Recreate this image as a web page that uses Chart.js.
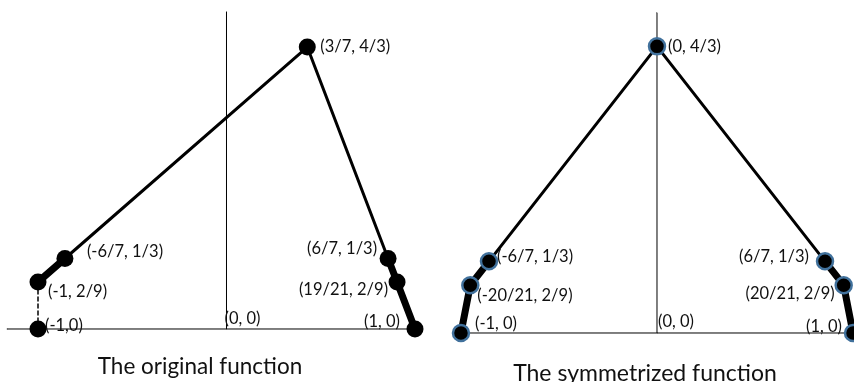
<!DOCTYPE html>
<html>
<head>
<meta charset="utf-8">
<script src="https://cdn.jsdelivr.net/npm/chart.js@4.4.1/dist/chart.umd.min.js"></script>
<style>
  html, body { margin: 0; padding: 0; background: #fff; }
  body { width: 854px; height: 382px; position: relative; overflow: hidden; font-family: Lato, "Open Sans", sans-serif; }
  .panel { position: absolute; top: 0; height: 382px; }
  .panel canvas { display: block; }
  .title { position: absolute; line-height: 1; color: #111; white-space: nowrap; transform: translateX(-50%); }
</style>
</head>
<body>
<div class="panel" style="left:0;width:430px"><canvas id="origChart" width="430" height="382"></canvas></div>
<div class="panel" style="left:430px;width:424px"><canvas id="symChart" width="424" height="382"></canvas></div>
<div class="title" id="origTitle" style="left:200px;top:355px;font-size:22.5px"></div>
<div class="title" id="symTitle" style="left:645px;top:361px;font-size:23px"></div>
<script>
// original function: break points
const origX = [-1, -1, -6/7, 3/7, 6/7, 19/21, 1];
const origY = [0, 2/9, 1/3, 4/3, 1/3, 2/9, 0];
const origLabels = ['(-1,0)', '(-1, 2/9)', '(-6/7, 1/3)', '(3/7, 4/3)', '(6/7, 1/3)', '(19/21, 2/9)', '(1, 0)'];
const origAxisX = [-1.165, 0.975];   // extent of the horizontal axis
const origAxisY = [0, 1.5];          // extent of the vertical axis

// symmetrized function: break points
const symX = [-1, -20/21, -6/7, 0, 6/7, 20/21, 1];
const symY = [0, 2/9, 1/3, 4/3, 1/3, 2/9, 0];
const symLabels = ['(-1, 0)', '(-20/21, 2/9)', '(-6/7, 1/3)', '(0, 4/3)', '(6/7, 1/3)', '(20/21, 2/9)', '(1, 0)'];
const symAxisX = [-0.98, 1.01];
const symAxisY = [0, 1.49];

const originLabel = '(0, 0)';
const titles = ['The original function', 'The symmetrized function'];

document.getElementById('origTitle').textContent = titles[0];
document.getElementById('symTitle').textContent = titles[1];

// label placement relative to the point: [dx, dy, align]
const origLabelPos = [[7, -3, 'left'], [10, 10, 'left'], [22, -7, 'left'], [13, 0, 'left'],
                      [-11, -10, 'right'], [-9, 8, 'right'], [-15, -7, 'right']];
const symLabelPos = [[14, -9, 'left'], [7, 10, 'left'], [8, -5, 'left'], [11, 0, 'left'],
                     [-16, -5, 'right'], [-9, 8, 'right'], [-11, -6, 'right']];

function pts(xs, ys, idx) {
  return idx.map(i => ({ x: xs[i], y: ys[i] }));
}

function segment(data, width, dash) {
  return {
    type: 'scatter', data: data, showLine: true, borderColor: '#000', borderWidth: width,
    borderDash: dash || [], pointRadius: 0, borderCapStyle: 'round', borderJoinStyle: 'round'
  };
}

// draws coordinate labels next to the points
const labelPlugin = {
  id: 'pointLabels',
  afterDatasetsDraw(chart, args, opts) {
    const ctx = chart.ctx;
    const xs = chart.scales.x, ys = chart.scales.y;
    ctx.save();
    ctx.font = '16.5px Lato, "Open Sans", sans-serif';
    ctx.fillStyle = '#111';
    ctx.textBaseline = 'middle';
    opts.xs.forEach((x, i) => {
      const p = opts.pos[i];
      ctx.textAlign = p[2];
      ctx.fillText(opts.labels[i], xs.getPixelForValue(x) + p[0], ys.getPixelForValue(opts.ys[i]) + p[1]);
    });
    // origin
    ctx.textAlign = 'left';
    ctx.fillText(originLabel, xs.getPixelForValue(0) + opts.origin[0], ys.getPixelForValue(0) + opts.origin[1]);
    ctx.restore();
  }
};

function baseOptions(xmin, xmax, ymin, ymax, labelOpts) {
  return {
    responsive: false,
    animation: false,
    layout: { padding: 0, autoPadding: false },
    scales: {
      x: { type: 'linear', min: xmin, max: xmax, display: false },
      y: { type: 'linear', min: ymin, max: ymax, display: false }
    },
    plugins: { legend: { display: false }, tooltip: { enabled: false }, pointLabels: labelOpts }
  };
}

// left chart
new Chart(document.getElementById('origChart'), {
  type: 'scatter',
  data: {
    datasets: [
      { data: pts(origX, origY, [0, 1, 2, 3, 4, 5, 6]), pointRadius: 8.5, pointBackgroundColor: '#000',
        pointBorderWidth: 0, showLine: false },
      segment(pts(origX, origY, [1, 2]), 7),
      segment(pts(origX, origY, [4, 5, 6]), 7),
      segment(pts(origX, origY, [2, 3, 4]), 3),
      segment(pts(origX, origY, [0, 1]), 1.5, [4, 3]),
      segment([{ x: origAxisX[0], y: 0 }, { x: origAxisX[1], y: 0 }], 1),
      segment([{ x: 0, y: origAxisY[0] }, { x: 0, y: origAxisY[1] }], 1)
    ]
  },
  options: baseOptions(-1.2016, 1.0796, -0.2506, 1.5556,
    { xs: origX, ys: origY, labels: origLabels, pos: origLabelPos, origin: [-2, -10] }),
  plugins: [labelPlugin]
});

// right chart
new Chart(document.getElementById('symChart'), {
  type: 'scatter',
  data: {
    datasets: [
      { data: pts(symX, symY, [0, 1, 2, 3, 4, 5, 6]), pointRadius: 8, pointBackgroundColor: '#000',
        pointBorderColor: '#41719c', pointBorderWidth: 2.5, showLine: false },
      segment(pts(symX, symY, [0, 1, 2]), 7),
      segment(pts(symX, symY, [4, 5, 6]), 7),
      segment(pts(symX, symY, [2, 3, 4]), 3),
      segment([{ x: symAxisX[0], y: 0 }, { x: symAxisX[1], y: 0 }], 1),
      segment([{ x: 0, y: symAxisY[0] }, { x: 0, y: symAxisY[1] }], 1)
    ]
  },
  options: baseOptions(-1.158, 1.005, -0.228, 1.549,
    { xs: symX, ys: symY, labels: symLabels, pos: symLabelPos, origin: [1, -11] }),
  plugins: [labelPlugin]
});
</script>
</body>
</html>
